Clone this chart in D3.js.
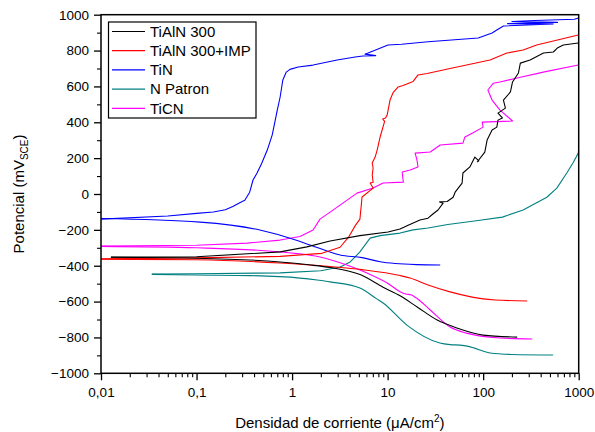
<!DOCTYPE html>
<html>
<head>
<meta charset="utf-8">
<script src="https://cdn.jsdelivr.net/npm/d3@7"></script>
<style>
  html, body { margin: 0; padding: 0; background: #fff; }
  svg { display: block; font-family: "Liberation Sans", Arial, sans-serif; }
</style>
</head>
<body>
<svg id="chart" width="595" height="432"></svg>
<script>
// ---- Data (current density µA/cm², potential mV_SCE) ----
const seriesNames = ["TiAlN 300", "TiAlN 300+IMP", "TiN", "N Patron", "TiCN"];
const seriesColors = ["#000000", "#ff0000", "#0000ff", "#008080", "#ff00ff"];

const xTickValues = [0.01, 0.1, 1, 10, 100, 1000];
const xTickLabels = ["0,01", "0,1", "1", "10", "100", "1000"];
const yTickValues = [-1000, -800, -600, -400, -200, 0, 200, 400, 600, 800, 1000];

// TiAlN 300 (black)
const tialnAnodic = [[0.0127,-352],[0.1,-350],[0.75,-323],[1.43,-295],[2.5,-262],[5.13,-232],[10.1,-212],[13.5,-195],[16.4,-174],[21.8,-145],[26.5,-135],[30,-110],[33.7,-89],[38.1,-51],[35,-44],[42,-42],[48.5,-18],[50.9,10],[60.2,61],[61.4,117],[72.6,151],[81.9,206],[90,185],[87,180],[104,234],[110,301],[124,357],[139,373],[143,412],[159,424],[143,451],[171,479],[163,524],[193,569],[203,625],[234,675],[245,730],[310,747],[428,786],[543,792],[597,814],[690,831],[990,842]];
const tialnCathodic = [[0.0127,-353],[0.1,-358],[0.75,-379],[1.5,-395],[2.5,-410],[5.3,-452],[8.97,-520],[13.5,-568],[20.4,-630],[33,-703],[53.5,-748],[100,-787],[227,-798]];

// TiAlN 300+IMP (red)
const impAnodic = [[0.01,-362],[0.1,-356],[0.75,-348],[2.05,-331],[3.18,-297],[3.9,-241],[4.6,-175],[5.13,-140],[5.4,-17],[7.05,33],[6.56,61],[7.05,66],[6.9,106],[7.05,145],[6.9,173],[7.4,206],[7.77,245],[8.35,318],[9.3,405],[8.9,418],[9.5,424],[9.88,440],[10.6,524],[11.4,565],[12.9,597],[14.5,605],[18.5,628],[20.8,664],[25.9,672],[42.6,697],[118,747],[177,786],[262,803],[363,831],[990,887]];
const impCathodic = [[0.01,-364],[0.1,-367],[0.75,-385],[2.5,-405],[5.4,-422],[13.5,-455],[17.2,-469],[26.5,-508],[45,-546],[76.7,-575],[100,-585],[134,-591],[289,-597]];

// TiN (blue)
const tinAnodic = [[0.01,-140],[0.05,-123],[0.1,-108],[0.15,-100],[0.2,-88],[0.24,-70],[0.28,-50],[0.32,-35],[0.36,10],[0.39,78],[0.43,117],[0.48,170],[0.55,245],[0.62,330],[0.70,468],[0.75,541],[0.80,636],[0.87,680],[0.95,695],[1.16,708],[1.66,719],[2.96,747],[4.57,764],[5.5,770],[7.5,772],[5.8,780],[6.25,786],[10.1,831],[14,835],[26.5,849],[88.7,870],[124,898],[139,915],[163,937],[540,948],[180,950],[600,957],[200,962],[350,968],[900,975],[1000,982]];
const tinCathodic = [[0.01,-137],[0.109,-157],[0.46,-201],[1.07,-255],[1.54,-284],[3.18,-340],[5.4,-355],[8.35,-378],[12,-388],[20,-394],[35.5,-396]];

// N Patron (teal)
const patronAnodic = [[0.034,-446],[0.1,-445],[0.75,-440],[2,-428],[3.18,-407],[4.06,-379],[5.13,-323],[6.1,-268],[6.56,-246],[8.35,-232],[13.5,-218],[18.5,-200],[26.5,-190],[42.6,-170],[88.7,-148],[159,-129],[262,-89],[464,-18],[590,33],[751,117],[870,173],[990,228],[1000,250]];
const patronCathodic = [[0.034,-448],[0.1,-452],[0.363,-455],[1.21,-469],[1.83,-480],[2.5,-490],[5.13,-524],[7.7,-585],[8.97,-608],[15.9,-731],[35.2,-831],[45,-840],[57.2,-843],[70,-850],[118,-887],[200,-895],[540,-898]];

// TiCN (magenta)
const ticnAnodic = [[0.01,-290],[0.1,-286],[0.338,-274],[0.75,-257],[1.21,-237],[1.66,-201],[1.96,-140],[2.5,-101],[3.4,-51],[4.78,5],[7.05,33],[8.97,61],[14.6,66],[14.2,123],[17.2,134],[20.8,151],[20.3,189],[19.4,228],[27.9,234],[35.5,273],[61.4,284],[64.4,318],[77.5,340],[99.9,373],[97.7,401],[203,407],[150,468],[124,524],[112,580],[128,618],[150,625],[227,647],[438,681],[989,719]];
const ticnCathodic = [[0.01,-292],[0.1,-300],[0.75,-323],[1.96,-351],[3.75,-396],[6.1,-441],[9.9,-496],[13.5,-545],[15.5,-558],[17.5,-562],[20,-580],[27.9,-647],[45,-742],[67,-776],[150,-803],[326,-809]];

const seriesBranches = [
  [tialnAnodic, tialnCathodic],
  [impAnodic, impCathodic],
  [tinAnodic, tinCathodic],
  [patronAnodic, patronCathodic],
  [ticnAnodic, ticnCathodic]
];

// ---- Layout ----
const svg = d3.select("#chart");
const pLeft = 101, pRight = 578.7, pTop = 14.7, pBottom = 373.3;

const x = d3.scaleLog().domain([0.01, 1000]).range([pLeft, pRight]);
const y = d3.scaleLinear().domain([-1000, 1000]).range([pBottom, pTop]);

svg.append("defs").append("clipPath").attr("id", "plotclip")
  .append("rect").attr("x", pLeft).attr("y", pTop).attr("width", pRight - pLeft).attr("height", pBottom - pTop);

const lineJagged = d3.line().x(d => x(d[0])).y(d => y(d[1]));
const lineSmooth = d3.line().x(d => x(d[0])).y(d => y(d[1])).curve(d3.curveMonotoneX);
const drawOrder = [3, 4, 2, 1, 0];
const plot = svg.append("g").attr("clip-path", "url(#plotclip)");
drawOrder.forEach(si => {
  seriesBranches[si].forEach((branch, bi) => {
    plot.append("path")
      .datum(branch)
      .attr("d", bi === 0 ? lineJagged : lineSmooth)
      .attr("fill", "none")
      .attr("stroke", seriesColors[si])
      .attr("stroke-width", 1.1)
      .attr("stroke-linejoin", "round");
  });
});

// Axes
const fontSize = "13.5px";
const xAxis = d3.axisBottom(x).tickValues(xTickValues)
  .tickFormat((d, i) => xTickLabels[i]).tickSize(7).tickPadding(7);
const gx = svg.append("g").attr("transform", `translate(0,${pBottom})`).call(xAxis);
gx.select(".domain").remove();
gx.selectAll("text").attr("font-size", fontSize).attr("fill", "#000").attr("font-family", "Liberation Sans, Arial, sans-serif");
gx.selectAll("line").attr("stroke", "#000").attr("stroke-width", 1.3);

const minorX = [];
[0.01, 0.1, 1, 10, 100].forEach(dec => { for (let k = 2; k <= 9; k++) minorX.push(dec * k); });
const gxm = svg.append("g").attr("transform", `translate(0,${pBottom})`)
  .call(d3.axisBottom(x).tickValues(minorX).tickFormat("").tickSize(4));
gxm.select(".domain").remove();
gxm.selectAll("line").attr("stroke", "#000").attr("stroke-width", 1.1);

const yAxis = d3.axisLeft(y).tickValues(yTickValues).tickFormat(d3.format("d")).tickSize(7).tickPadding(5);
const gy = svg.append("g").attr("transform", `translate(${pLeft},0)`).call(yAxis);
gy.select(".domain").remove();
gy.selectAll("text").attr("font-size", fontSize).attr("fill", "#000").attr("font-family", "Liberation Sans, Arial, sans-serif");
gy.selectAll("line").attr("stroke", "#000").attr("stroke-width", 1.3);

const minorY = d3.range(-900, 1000, 200);
const gym = svg.append("g").attr("transform", `translate(${pLeft},0)`)
  .call(d3.axisLeft(y).tickValues(minorY).tickFormat("").tickSize(4));
gym.select(".domain").remove();
gym.selectAll("line").attr("stroke", "#000").attr("stroke-width", 1.1);

// Frame
svg.append("rect").attr("x", pLeft).attr("y", pTop).attr("width", pRight - pLeft).attr("height", pBottom - pTop)
  .attr("fill", "none").attr("stroke", "#000").attr("stroke-width", 1.5);

// Axis titles
svg.append("text").attr("x", (pLeft + pRight) / 2).attr("y", 427.5).attr("text-anchor", "middle")
  .attr("font-size", "15px").attr("fill", "#000")
  .html('Densidad de corriente (μA/cm<tspan dy="-6" font-size="10px">2</tspan><tspan dy="6">)</tspan>');

const yt = svg.append("text").attr("transform", `translate(24,${(pTop + pBottom) / 2}) rotate(-90)`)
  .attr("text-anchor", "middle").attr("font-size", "15px").attr("fill", "#000");
yt.append("tspan").text("Potencial (mV");
yt.append("tspan").attr("dy", 4).attr("font-size", "10px").text("SCE");
yt.append("tspan").attr("dy", -4).text(")");

// Legend
const lg = svg.append("g");
lg.append("rect").attr("x", 108.5).attr("y", 22).attr("width", 147.5).attr("height", 96)
  .attr("fill", "#fff").attr("stroke", "#000").attr("stroke-width", 1.2);
seriesNames.forEach((name, i) => {
  const yy = 31.5 + i * 19.2;
  lg.append("line").attr("x1", 112).attr("x2", 145).attr("y1", yy).attr("y2", yy)
    .attr("stroke", seriesColors[i]).attr("stroke-width", 1.2);
  lg.append("text").attr("x", 150).attr("y", yy + 5.3).attr("font-size", "15px").attr("fill", "#000").text(name);
});
</script>
</body>
</html>
